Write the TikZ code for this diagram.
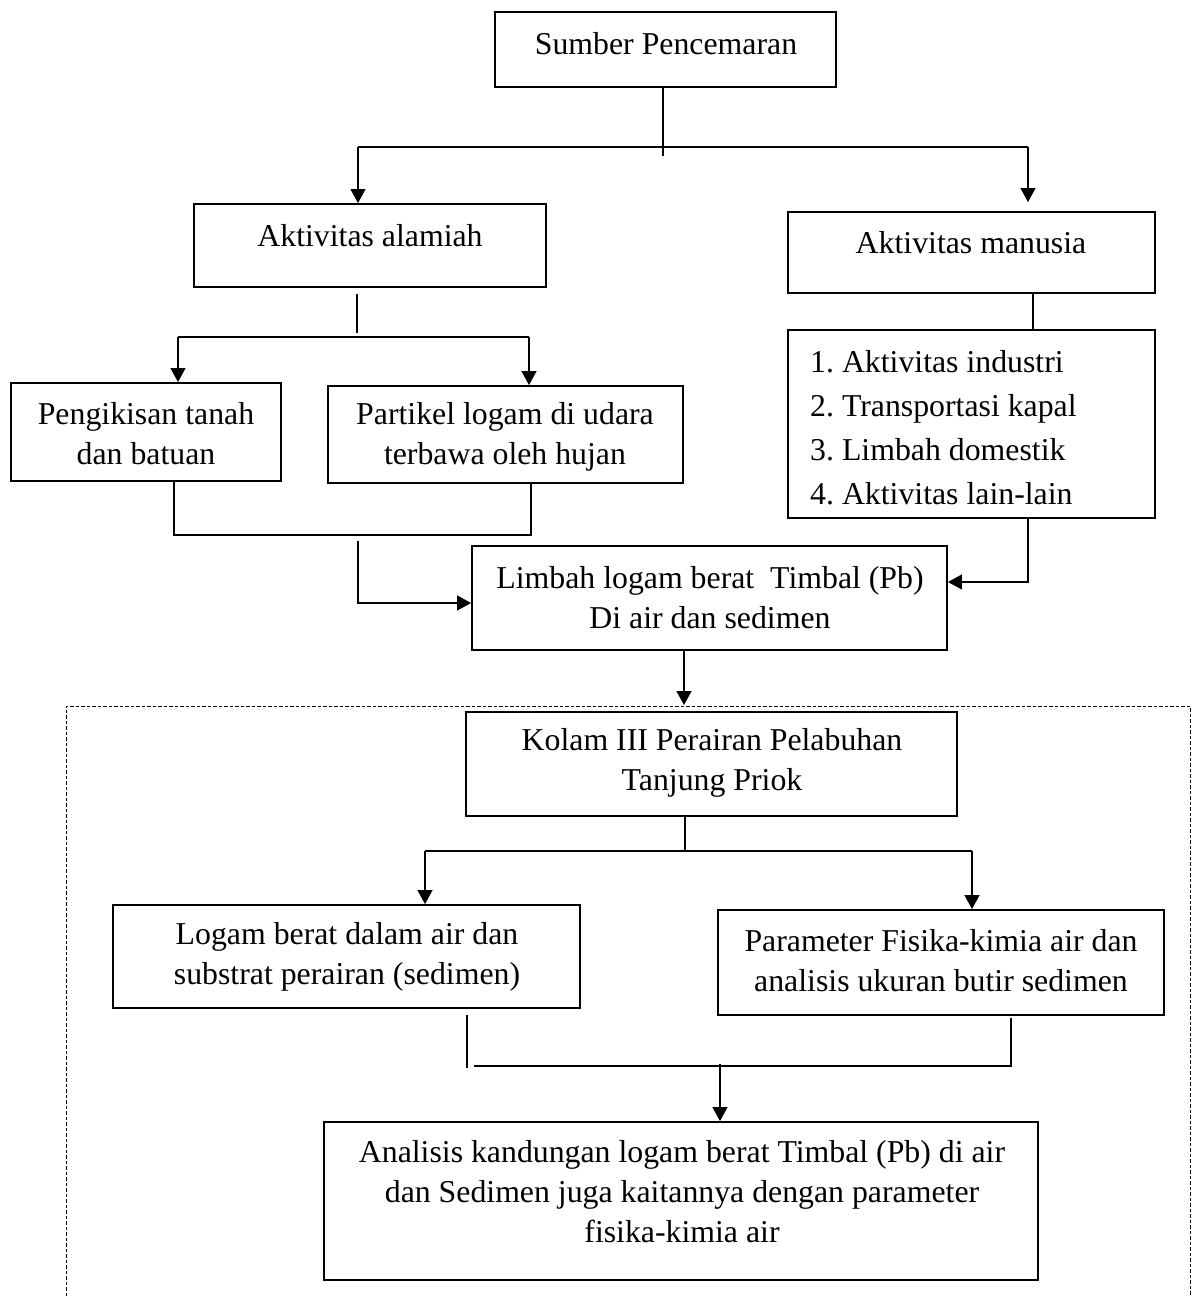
\documentclass[tikz,border=0pt]{standalone}
\usepackage{fontspec}
\setmainfont{Liberation Serif}
\usetikzlibrary{arrows.meta}
\frenchspacing
\begin{document}
\begin{tikzpicture}[x=1pt,y=-1pt,
 box/.style={draw, line width=1.9pt, inner sep=0pt},
 txt/.style={align=center, inner sep=0pt, font=\fontsize{31.8}{40}\selectfont},
 listtxt/.style={align=left, inner sep=0pt, font=\fontsize{31.8}{44}\selectfont},
 conn/.style={line width=1.2pt},
 arr/.style={conn, -{Triangle[length=14pt,width=15pt]}},
 dashbox/.style={line width=1pt, dash pattern=on 3.5pt off 2pt},
]
\useasboundingbox (0,0) rectangle (1194,1296);

% boxes
\node[box, minimum width=341pt, minimum height=75pt] (sumber) at (665.5,49.5) {};
\node[txt] (tsumber) at (666,44) {Sumber Pencemaran};

\node[box, minimum width=352pt, minimum height=83pt] (alamiah) at (370,245.5) {};
\node[txt] (talamiah) at (370,236) {Aktivitas alamiah};

\node[box, minimum width=367pt, minimum height=81pt] (manusia) at (971.5,252.5) {};
\node[txt] (tmanusia) at (971,243) {Aktivitas manusia};

\node[box, minimum width=367pt, minimum height=188pt] (list) at (971.5,424) {};
\node[listtxt, anchor=west] (tlist) at (810,427.5) {1. Aktivitas industri\\2. Transportasi kapal\\3. Limbah domestik\\4. Aktivitas lain-lain};

\node[box, minimum width=270pt, minimum height=98pt] (peng) at (146,432) {};
\node[txt] (tpeng) at (146,434) {Pengikisan tanah\\dan batuan};

\node[box, minimum width=355pt, minimum height=97pt] (part) at (505.5,434.5) {};
\node[txt] (tpart) at (505,437) {Partikel logam di udara\\terbawa oleh hujan};

\node[box, minimum width=475pt, minimum height=104pt] (limbah) at (709.5,598) {};
\node[txt] (tlimbah) at (710,597.5) {Limbah logam berat\ \ Timbal (Pb)\\Di air dan sedimen};

\node[box, minimum width=491pt, minimum height=104pt] (kolam) at (711.5,764) {};
\node[txt] (tkolam) at (712,762.5) {Kolam III Perairan Pelabuhan\\Tanjung Priok};

\node[box, minimum width=467pt, minimum height=103pt] (logam) at (346.5,956.5) {};
\node[txt] (tlogam) at (347,957) {Logam berat dalam air dan\\substrat perairan (sedimen)};

\node[box, minimum width=446pt, minimum height=105pt] (param) at (941,962.5) {};
\node[txt] (tparam) at (941,960.5) {Parameter Fisika-kimia air dan\\analisis ukuran butir sedimen};

\node[box, minimum width=714pt, minimum height=158pt] (analisis) at (681,1201) {};
\node[txt] (tanalisis) at (682,1191.5) {Analisis kandungan logam berat Timbal (Pb) di air\\dan Sedimen juga kaitannya dengan parameter\\fisika-kimia air};

% dashed frame
\coordinate (dBL) at (66,1296);
\coordinate (dTL) at (66,706);
\coordinate (dTR) at (1190,706);
\coordinate (dBR) at (1190,1296);
\draw[dashbox] (dBL) -- (dTL) -- (dTR) -- (dBR);

% junction coordinates
\coordinate (s1) at (663,156);
\coordinate (jL) at (358,147);
\coordinate (jR) at (1028,147);
\coordinate (a1) at (357,333);
\coordinate (kL) at (178,337);
\coordinate (kR) at (529,337);
\coordinate (m1) at (1033,329);
\coordinate (p1) at (174,535);
\coordinate (p2) at (531,535);
\coordinate (q1) at (358,541);
\coordinate (q2) at (358,603);
\coordinate (r1) at (1028,582);
\coordinate (dtop) at (684,705);
\coordinate (k1) at (685,851);
\coordinate (lL) at (425,851);
\coordinate (lR) at (972,851);
\coordinate (g1) at (467,1068);
\coordinate (g2) at (1011,1067);
\coordinate (hL) at (474,1066);
\coordinate (hR) at (1010,1066);
\coordinate (h1) at (720,1064);

% connectors
\draw[conn] (sumber.south -| s1) -- (s1);
\draw[conn] (jL) -- (jR);
\draw[arr] (jL) -- (alamiah.north -| jL);
\draw[arr, shorten >=9pt] (jR) -- (manusia.north -| jR);

\draw[conn] ([yshift=-6pt]alamiah.south -| a1) -- (a1);
\draw[conn] (kL) -- (kR);
\draw[arr] (kL) -- (peng.north -| kL);
\draw[arr] (kR) -- (part.north -| kR);

\draw[conn] (manusia.south -| m1) -- (m1);

\draw[conn] (peng.south -| p1) -- (p1) -- (p2) -- (part.south -| p2);
\draw[arr] (q1) -- (q2) -- (limbah.west |- q2);
\draw[arr] (list.south -| r1) -- (r1) -- (limbah.east |- r1);
\draw[arr] (limbah.south -| dtop) -- (dtop);

\draw[conn] (kolam.south -| k1) -- (k1);
\draw[conn] (lL) -- (lR);
\draw[arr] (lL) -- (logam.north -| lL);
\draw[arr] (lR) -- (param.north -| lR);

\draw[conn] ([yshift=-6pt]logam.south -| g1) -- (g1);
\draw[conn] ([yshift=-2pt]param.south -| g2) -- (g2);
\draw[conn] (hL) -- (hR);
\draw[arr] (h1) -- (analisis.north -| h1);
\end{tikzpicture}
\end{document}
